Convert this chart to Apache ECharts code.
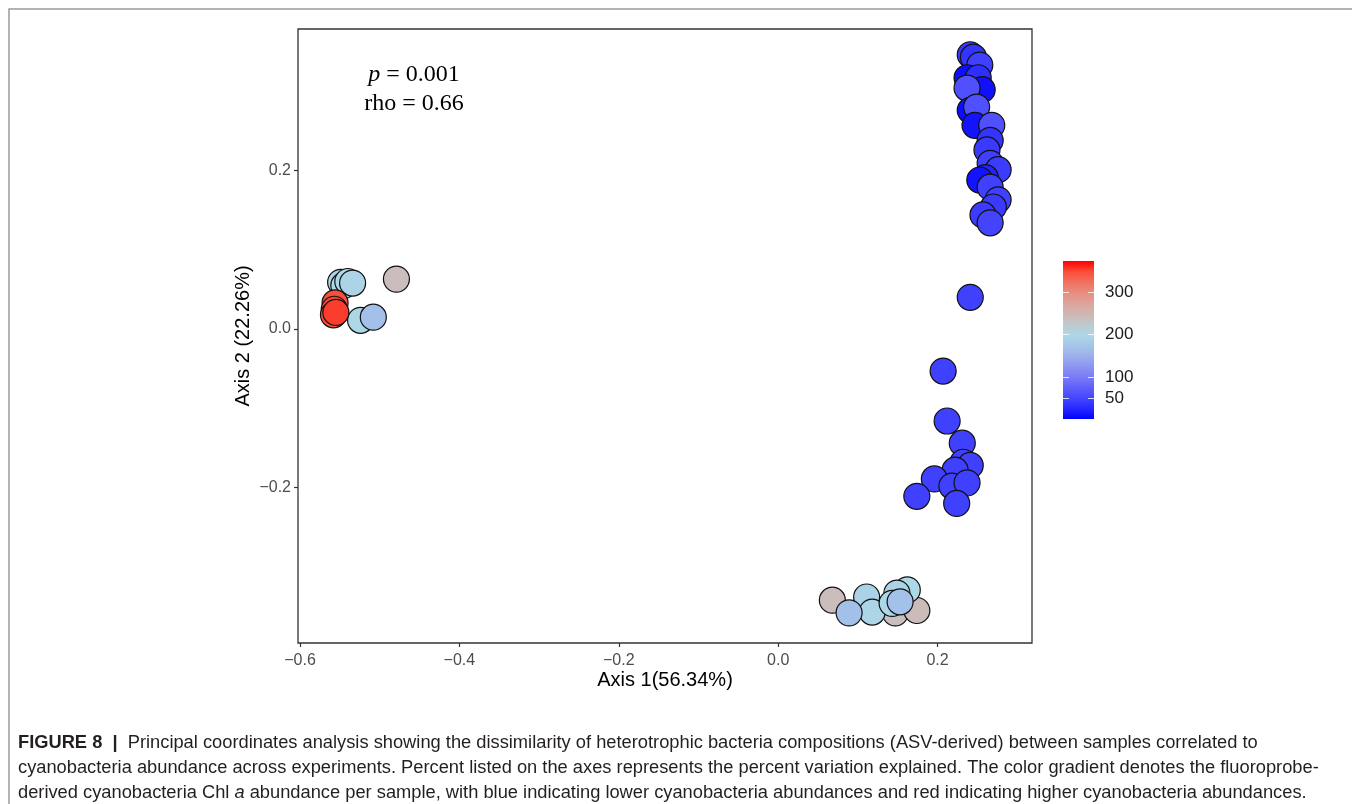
<!DOCTYPE html>
<html>
<head>
<meta charset="utf-8">
<script src="https://cdn.jsdelivr.net/npm/echarts@6/dist/echarts.min.js"></script>
<style>
  html, body { margin: 0; padding: 0; background: #fff; }
  #chart { width: 1352px; height: 804px; }
</style>
</head>
<body>
<div id="chart"></div>
<script>
// PCoA sample scores (Axis 1, Axis 2) and cyanobacteria Chl a per sample
// left cluster, bottom cluster, middle strand, top-right cluster
const axis1 = [
  -0.479, -0.549, -0.545, -0.540, -0.534, -0.524, -0.508, -0.556, -0.557, -0.558, -0.555,
  0.068, 0.147, 0.174, 0.111, 0.118, 0.162, 0.149, 0.143, 0.089, 0.153,
  0.241, 0.207, 0.212, 0.231, 0.232, 0.241, 0.222, 0.196, 0.174, 0.218, 0.237, 0.224,
  0.241, 0.245, 0.253, 0.237, 0.251, 0.256, 0.237, 0.241, 0.249, 0.247, 0.268,
  0.266, 0.262, 0.266, 0.276, 0.260, 0.253, 0.266, 0.276, 0.270, 0.257, 0.266
]
const axis2 = [
  0.063, 0.059, 0.055, 0.060, 0.058, 0.011, 0.015, 0.033, 0.025, 0.018, 0.021,
  -0.342, -0.358, -0.355, -0.338, -0.357, -0.329, -0.333, -0.346, -0.358, -0.344,
  0.040, -0.053, -0.116, -0.144, -0.168, -0.172, -0.178, -0.189, -0.211, -0.198, -0.194, -0.220,
  0.346, 0.343, 0.333, 0.317, 0.317, 0.302, 0.304, 0.276, 0.280, 0.257, 0.257,
  0.238, 0.226, 0.209, 0.201, 0.191, 0.188, 0.179, 0.163, 0.154, 0.144, 0.134
]
const chlA = [
  240, 195, 200, 198, 195, 198, 168, 348, 352, 350, 355,
  240, 238, 242, 192, 196, 200, 195, 198, 168, 170,
  45, 45, 45, 45, 45, 45, 45, 45, 45, 45, 45, 45,
  40, 35, 45, 8, 30, 10, 60, 8, 60, 12, 60,
  35, 40, 45, 42, 22, 12, 45, 45, 40, 42, 48
]

const xTicks = [-0.6, -0.4, -0.2, 0.0, 0.2]
const yTicks = [-0.2, 0.0, 0.2]
const colorTicks = [50, 100, 200, 300]
const chlRange = [0, 375]

// blue -> lightblue (200) -> red, one stop every 25
const palette = [
  '#0000ff', '#2828ff', '#4646ff', '#6060fc', '#7a7cf6', '#8c96f0', '#9cb0ec', '#a6c6e8',
  '#add8e6', '#c0c8cc', '#d0b6b2', '#dca49a', '#e88c7e', '#f27060', '#fa4c38', '#ff0000'
]

const fmt = (v) => (v < 0 ? '\u2212' : '') + Math.abs(v).toFixed(1)

const chart = echarts.init(document.getElementById('chart'))

const points = axis1.map((x, i) => [x, axis2[i], chlA[i]])

chart.setOption({
  backgroundColor: '#fff',
  animation: false,
  graphic: [
    {
      type: 'rect',
      shape: { x: 9, y: 9, width: 1400, height: 900 },
      style: { fill: 'none', stroke: '#9a9a9a', lineWidth: 1.5 },
      silent: true
    }
  ],
  title: [
    {
      text: '{i|p} = 0.001\nrho = 0.66',
      left: 409,
      top: 55,
      textAlign: 'center',
      textStyle: {
        fontFamily: 'Liberation Serif',
        fontSize: 24,
        fontWeight: 'normal',
        color: '#000',
        lineHeight: 29,
        rich: {
          i: { fontFamily: 'Liberation Serif', fontSize: 24, fontStyle: 'italic', color: '#000' }
        }
      }
    },
    {
      text: '{b|FIGURE 8  |}  Principal coordinates analysis showing the dissimilarity of heterotrophic bacteria compositions (ASV-derived) between samples correlated to\n' +
        'cyanobacteria abundance across experiments. Percent listed on the axes represents the percent variation explained. The color gradient denotes the fluoroprobe-\n' +
        'derived cyanobacteria Chl {i|a} abundance per sample, with blue indicating lower cyanobacteria abundances and red indicating higher cyanobacteria abundances.',
      left: 13,
      top: 725,
      textStyle: {
        fontFamily: 'Liberation Sans',
        fontSize: 18.3,
        fontWeight: 'normal',
        color: '#231f20',
        lineHeight: 25,
        rich: {
          b: { fontFamily: 'Liberation Sans', fontSize: 18.3, fontWeight: 'bold', color: '#231f20' },
          i: { fontFamily: 'Liberation Sans', fontSize: 18.3, fontStyle: 'italic', color: '#231f20' }
        }
      }
    }
  ],
  grid: [
    { left: 298, top: 29, width: 734, height: 614, show: true, borderColor: '#333', borderWidth: 1.3, backgroundColor: '#fff' },
    { left: 1063, top: 261, width: 31, height: 158 }
  ],
  xAxis: [
    {
      type: 'value',
      gridIndex: 0,
      min: -0.6025,
      max: 0.3185,
      name: 'Axis 1(56.34%)',
      nameLocation: 'middle',
      nameGap: 27,
      nameMoveOverlap: false,
      nameTextStyle: { fontFamily: 'Liberation Sans', fontSize: 20, color: '#000' },
      axisLine: { show: false, onZero: false },
      axisTick: { show: true, length: 4, customValues: xTicks, lineStyle: { color: '#333', width: 1.2 } },
      axisLabel: { customValues: xTicks, formatter: fmt, fontFamily: 'Liberation Sans', fontSize: 16, color: '#4d4d4d', margin: 10 },
      splitLine: { show: false }
    },
    {
      type: 'category',
      gridIndex: 1,
      data: [''],
      show: false
    }
  ],
  yAxis: [
    {
      type: 'value',
      gridIndex: 0,
      min: -0.396,
      max: 0.3785,
      name: 'Axis 2 (22.26%)',
      nameLocation: 'middle',
      nameGap: 45,
      nameMoveOverlap: false,
      nameTextStyle: { fontFamily: 'Liberation Sans', fontSize: 20, color: '#000' },
      axisLine: { show: false, onZero: false },
      axisTick: { show: true, length: 4, customValues: yTicks, lineStyle: { color: '#333', width: 1.2 } },
      axisLabel: { customValues: yTicks, formatter: fmt, fontFamily: 'Liberation Sans', fontSize: 16, color: '#4d4d4d', margin: 7 },
      splitLine: { show: false }
    },
    {
      type: 'value',
      gridIndex: 1,
      position: 'right',
      min: chlRange[0],
      max: chlRange[1],
      z: 10,
      axisLine: { show: false },
      axisTick: { show: true, inside: true, length: 6, customValues: colorTicks, lineStyle: { color: 'rgba(255,255,255,0.8)', width: 1 } },
      axisLabel: { customValues: colorTicks, fontFamily: 'Liberation Sans', fontSize: 17, color: '#1a1a1a', margin: 11 },
      splitLine: { show: false }
    },
    {
      type: 'value',
      gridIndex: 1,
      position: 'left',
      min: chlRange[0],
      max: chlRange[1],
      z: 10,
      axisLine: { show: false },
      axisTick: { show: true, inside: true, length: 6, customValues: colorTicks, lineStyle: { color: 'rgba(255,255,255,0.8)', width: 1 } },
      axisLabel: { show: false },
      splitLine: { show: false }
    }
  ],
  visualMap: {
    type: 'continuous',
    show: false,
    seriesIndex: 0,
    dimension: 2,
    min: chlRange[0],
    max: chlRange[1],
    inRange: { color: palette }
  },
  series: [
    {
      type: 'scatter',
      xAxisIndex: 0,
      yAxisIndex: 0,
      symbolSize: 26,
      itemStyle: { borderColor: '#111', borderWidth: 1.2, opacity: 1 },
      data: points
    },
    {
      type: 'bar',
      xAxisIndex: 1,
      yAxisIndex: 1,
      barWidth: '100%',
      silent: true,
      itemStyle: {
        color: new echarts.graphic.LinearGradient(0, 1, 0, 0,
          palette.map((c, i) => ({ offset: i / (palette.length - 1), color: c })))
      },
      data: [chlRange[1]]
    }
  ]
})
</script>
</body>
</html>
